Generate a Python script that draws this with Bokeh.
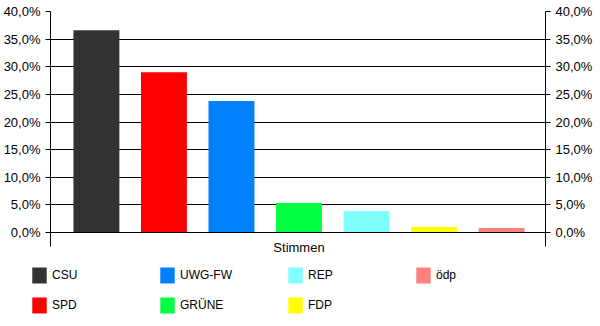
from bokeh.plotting import figure
from bokeh.models import ColumnDataSource, Range1d, LinearAxis, FixedTicker, Legend, LegendItem
from bokeh.embed import file_html
from bokeh.resources import INLINE

parties = ["CSU", "SPD", "UWG-FW", "GRÜNE", "REP", "FDP", "ödp"]
values = [36.6, 29.0, 23.8, 5.35, 3.9, 1.0, 0.83]
colors = ["#333333", "#FF0000", "#0080FF", "#00FF40", "#80FFFF", "#FFFF00", "#FF8080"]
category = "Stimmen"
y_ticks = [0, 5, 10, 15, 20, 25, 30, 35, 40]
y_labels = ["0,0%", "5,0%", "10,0%", "15,0%", "20,0%", "25,0%", "30,0%", "35,0%", "40,0%"]

FONT = "Liberation Sans"

src = ColumnDataSource(dict(x=list(range(len(parties))), top=values, color=colors, party=parties))

x0, x1 = -0.68, 6.65
p = figure(width=600, height=258, output_backend="svg", toolbar_location=None,
           x_range=Range1d(x0, x1), y_range=Range1d(0, 40),
           min_border_left=50, min_border_right=55, min_border_top=11, min_border_bottom=26,
           x_axis_location=None, y_axis_location=None)
p.outline_line_color = None
p.background_fill_color = "white"
p.border_fill_color = "white"

r = p.vbar(x="x", top="top", width=0.68, bottom=0, color="color", line_color=None,
           source=src)

# grid
p.xgrid.visible = False
p.ygrid.ticker = FixedTicker(ticks=y_ticks)
p.ygrid.grid_line_color = "black"
p.ygrid.grid_line_width = 1

def yaxis():
    ax = LinearAxis(ticker=FixedTicker(ticks=y_ticks, minor_ticks=[]),
                    major_label_overrides={t: l for t, l in zip(y_ticks, y_labels)})
    ax.major_tick_out = 5
    ax.major_tick_in = 0
    ax.minor_tick_out = 0
    ax.axis_line_color = "black"
    ax.major_tick_line_color = "black"
    ax.major_label_text_font = FONT
    ax.major_label_text_font_size = "13px"
    ax.major_label_text_color = "black"
    ax.major_label_standoff = 5
    return ax

p.add_layout(yaxis(), "left")
p.add_layout(yaxis(), "right")

xax = LinearAxis(ticker=FixedTicker(ticks=[3], minor_ticks=[x0 + 0.001, x1 - 0.001]),
                 major_label_overrides={3: category})
xax.major_tick_out = 0
xax.major_tick_in = 0
xax.minor_tick_out = 14
xax.minor_tick_in = 0
xax.minor_tick_line_color = "black"
xax.axis_line_color = "black"
xax.major_label_text_font = FONT
xax.major_label_text_font_size = "13px"
xax.major_label_text_color = "black"
xax.major_label_standoff = -7
p.add_layout(xax, "below")

# legend figure (separate root, so its frame is not aligned with the chart's)
pl = figure(width=600, height=68, output_backend="svg", toolbar_location=None,
            x_range=Range1d(0, 1), y_range=Range1d(0, 1), min_border=0,
            x_axis_location=None, y_axis_location=None)
pl.outline_line_color = None
pl.xgrid.visible = False
pl.ygrid.visible = False
pl.background_fill_color = "white"
pl.border_fill_color = "white"
rl = pl.vbar(x="x", top="top", width=0.68, bottom=0, color="color", line_color=None, source=src)
rl.visible = False

leg = Legend(items=[LegendItem(label=parties[i], renderers=[rl], index=i) for i in range(len(parties))])
leg.orientation = "vertical"
leg.nrows = 2
leg.location = (30, 11)
leg.border_line_color = None
leg.background_fill_alpha = 0
leg.padding = 0
leg.margin = 0
leg.spacing = 10
leg.glyph_width = 18
leg.glyph_height = 20
leg.label_standoff = 4
leg.label_width = 96
leg.label_height = 20
leg.label_text_font = FONT
leg.label_text_font_size = "12px"
leg.label_text_color = "black"
pl.add_layout(leg, "center")

open("out.html", "w").write(file_html([p, pl], INLINE))
